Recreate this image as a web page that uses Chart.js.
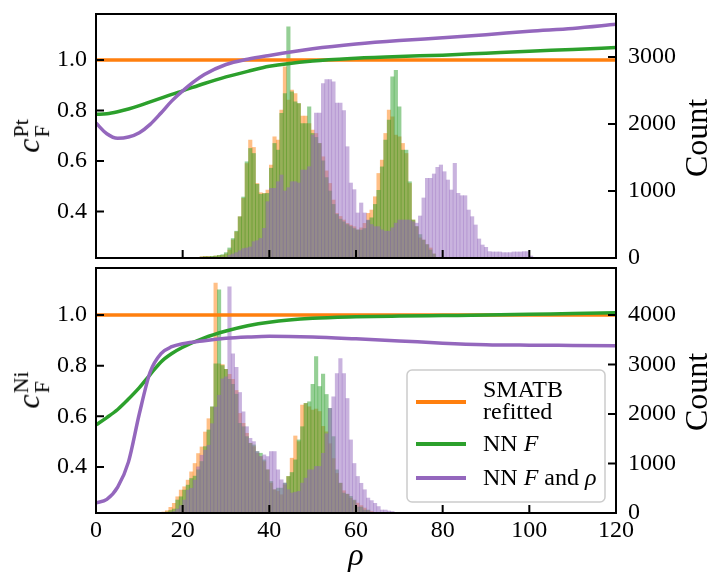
<!DOCTYPE html>
<html>
<head>
<meta charset="utf-8">
<script src="https://cdn.jsdelivr.net/npm/chart.js@4.4.0/dist/chart.umd.min.js"></script>
<style>
  body { margin: 0; background: #fff; }
  #wrap { position: relative; width: 709px; height: 577px; font-family: "Liberation Serif", serif; color: #000; }
  canvas { position: absolute; left: 0; }
  #ptChart { top: 0; }
  #niChart { top: 262px; }
  .vlab { position: absolute; transform: translate(-50%, -50%) rotate(-90deg); white-space: nowrap; font-size: 32px; line-height: 1; }
  .ss { display: inline-flex; flex-direction: column; font-size: 22px; line-height: 0.95; vertical-align: 11px; margin-left: 1px; }
</style>
</head>
<body>
<div id="wrap">
  <canvas id="ptChart" width="709" height="280"></canvas>
  <canvas id="niChart" width="709" height="315"></canvas>
  <div class="vlab" style="left:32px; top:136px;"><i>c</i><span class="ss"><span>Pt</span><span>F</span></span></div>
  <div class="vlab" style="left:32px; top:390px;"><i>c</i><span class="ss"><span>Ni</span><span>F</span></span></div>
  <div class="vlab" style="left:696px; top:138px;">Count</div>
  <div class="vlab" style="left:696px; top:392px;">Count</div>
</div>
<script>
const rhoSamples = [0, 2.5, 5, 7.5, 10, 12.5, 15, 17.5, 20, 25, 30, 35, 40, 50, 60, 70, 80, 90, 100, 110, 120];
const smatbRho = [0, 120];

// tick values
const rhoTicks = [0, 20, 40, 60, 80, 100, 120];
const cfTicks = [0.4, 0.6, 0.8, 1.0];
const ptCountTicks = [0, 1000, 2000, 3000];
const niCountTicks = [0, 1000, 2000, 3000, 4000];

// Pt panel curves (left axis)
const ptSmatb = [1.0, 1.0];
const ptNnF = [0.785, 0.787, 0.795, 0.806, 0.819, 0.834, 0.849, 0.864, 0.878, 0.907, 0.933, 0.955, 0.975, 0.996, 1.007, 1.014, 1.019, 1.027, 1.035, 1.041, 1.049];
const ptNnFRho = [0.750, 0.708, 0.690, 0.695, 0.712, 0.745, 0.790, 0.838, 0.878, 0.942, 0.982, 1.003, 1.018, 1.044, 1.063, 1.077, 1.088, 1.100, 1.114, 1.125, 1.141];

// Ni panel curves (left axis)
const niSmatb = [1.0, 1.0];
const niNnF = [0.566, 0.595, 0.627, 0.668, 0.713, 0.765, 0.815, 0.848, 0.873, 0.910, 0.937, 0.958, 0.972, 0.987, 0.993, 0.996, 0.998, 1.000, 1.003, 1.006, 1.009];
const niNnFRho = [0.258, 0.272, 0.320, 0.420, 0.610, 0.775, 0.848, 0.875, 0.887, 0.899, 0.908, 0.913, 0.916, 0.913, 0.906, 0.898, 0.889, 0.883, 0.881, 0.880, 0.879];

// histograms (right axis), bins of width 0.8 in rho; first bin index = left edge / binWidth
const binWidth = 0.8;
const ptSmatbFirstBin = 30;
const ptSmatbCounts = [20, 25, 25, 20, 30, 35, 40, 60, 120, 270, 390, 616, 890, 1410, 1760, 1650, 1113, 974, 964, 1014, 1387, 1809, 1760, 2207, 2853, 2356, 2505, 2455, 2306, 2117, 2117, 2008, 1908, 1859, 1710, 1511, 1300, 1113, 865, 666, 620, 567, 517, 490, 467, 417, 450, 517, 666, 716, 914, 1262, 1461, 1859, 2207, 2107, 1834, 1809, 1710, 1560, 1113, 567, 467, 300, 268, 200, 150, 60];
const ptNnFFirstBin = 30;
const ptNnFCounts = [15, 20, 20, 25, 30, 40, 50, 80, 150, 290, 400, 616, 910, 1436, 1635, 1560, 1100, 950, 960, 964, 1340, 1710, 1610, 2160, 2455, 3449, 2480, 2330, 2306, 2008, 2008, 2256, 1859, 1800, 1710, 1450, 1200, 1000, 800, 650, 580, 540, 500, 470, 440, 420, 417, 440, 560, 600, 800, 1010, 1360, 1760, 2058, 2704, 2803, 2256, 1610, 1610, 1138, 567, 470, 350, 268, 200, 120, 60];
const ptNnFRhoFirstBin = 38;
const ptNnFRhoCounts = [40, 60, 80, 110, 140, 150, 165, 244, 260, 293, 443, 841, 1040, 1040, 1139, 1239, 1000, 1050, 1139, 1139, 1120, 1313, 1313, 1363, 1836, 2164, 2164, 2604, 2664, 2664, 2629, 2313, 2313, 2200, 1661, 1119, 1020, 672, 821, 672, 567, 500, 468, 468, 420, 400, 400, 450, 520, 567, 567, 567, 567, 542, 520, 627, 896, 1189, 1189, 1254, 1353, 1388, 1288, 1164, 1015, 1413, 965, 930, 930, 716, 617, 493, 284, 194, 159, 95, 90, 90, 90, 80, 80, 80, 90, 90, 90, 95, 95, 30];

const niSmatbFirstBin = 18;
const niSmatbCounts = [10, 20, 47, 114, 195, 328, 463, 530, 664, 831, 1000, 1201, 1334, 1636, 1905, 2139, 4642, 3012, 3000, 2900, 2800, 2700, 2475, 2012, 1811, 1610, 1408, 1341, 1207, 1140, 1040, 872, 604, 470, 436, 369, 570, 738, 1107, 1556, 1442, 2180, 2213, 2146, 2080, 2100, 2050, 1750, 1640, 1400, 1100, 800, 600, 450, 380, 300, 250, 200, 150, 100, 50, 30];
const niNnFFirstBin = 20;
const niNnFCounts = [20, 50, 80, 262, 328, 463, 563, 697, 745, 872, 1040, 1341, 1677, 2146, 3012, 4507, 2980, 2900, 2700, 2600, 2400, 1811, 1743, 1543, 1408, 1375, 1241, 1207, 1073, 872, 637, 470, 503, 503, 604, 738, 818, 1073, 1476, 1743, 2213, 2247, 2600, 3159, 2555, 2806, 2394, 2113, 1543, 872, 604, 403, 380, 336, 262, 120, 120, 60, 60];
const niNnFRhoFirstBin = 21;
const niNnFRhoCounts = [10, 30, 80, 150, 262, 463, 500, 664, 932, 1167, 1268, 1368, 1804, 2139, 2379, 2709, 2750, 4567, 3213, 2945, 2434, 2044, 1743, 1509, 1442, 1241, 1140, 1174, 1140, 1241, 1241, 872, 671, 604, 470, 403, 420, 436, 604, 704, 872, 872, 940, 940, 1207, 1600, 2113, 2347, 2817, 3119, 2817, 2313, 1476, 1000, 738, 600, 470, 302, 250, 195, 130, 60, 60, 40, 30];

const legendLabels = [
  [[{ t: 'SMATB' }], [{ t: 'refitted' }]],
  [[{ t: 'NN ' }, { t: 'F', it: true }]],
  [[{ t: 'NN ' }, { t: 'F', it: true }, { t: ' and ' }, { t: 'ρ', it: true }]]
];

const orange = '#ff7f0e', green = '#2ca02c', purple = '#9467bd';
const orangeBar = 'rgba(255,127,14,0.5)', greenBar = 'rgba(44,160,44,0.5)', purpleBar = 'rgba(148,103,189,0.5)';
const serif = '"Liberation Serif", "Times New Roman", serif';

Chart.defaults.font.family = serif;
Chart.defaults.font.size = 24;
Chart.defaults.color = '#000';

function histData(firstBin, counts) {
  return counts.map((c, i) => ({ x: Math.round((firstBin + i + 0.5) * binWidth * 1000) / 1000, y: c }));
}
function curve(xs, ys) {
  return xs.map((x, i) => ({ x: x, y: ys[i] }));
}
function fixedTicks(values) {
  return s => { s.ticks = values.map(v => ({ value: v })); };
}

// frame and inward ticks, drawn like matplotlib spines
const framePlugin = {
  id: 'frame',
  afterDatasetsDraw(chart) {
    const { ctx, chartArea: a, scales } = chart;
    const len = 8;
    ctx.save();
    ctx.strokeStyle = '#000';
    ctx.lineWidth = 2;
    ctx.beginPath();
    scales.x.ticks.forEach(t => {
      const px = scales.x.getPixelForValue(t.value);
      ctx.moveTo(px, a.bottom);
      ctx.lineTo(px, a.bottom - len);
    });
    scales.y.ticks.forEach(t => {
      const py = scales.y.getPixelForValue(t.value);
      ctx.moveTo(a.left, py);
      ctx.lineTo(a.left + len, py);
    });
    scales.yr.ticks.forEach(t => {
      const py = scales.yr.getPixelForValue(t.value);
      ctx.moveTo(a.right, py);
      ctx.lineTo(a.right - len, py);
    });
    ctx.stroke();
    ctx.strokeRect(a.left, a.top, a.right - a.left, a.bottom - a.top);
    ctx.restore();
  }
};

const legendPlugin = {
  id: 'boxLegend',
  afterDraw(chart) {
    if (!chart.options.plugins.boxLegend.show) return;
    const { ctx, chartArea: a } = chart;
    const w = 198, h = 132;
    const x0 = a.right - 11 - w, y0 = a.bottom - 11 - h;
    const colors = [orange, green, purple];
    const handleY = [32, 74, 108];
    const baselines = [[27, 49], [81], [115]];
    ctx.save();
    ctx.beginPath();
    ctx.roundRect(x0, y0, w, h, 5);
    ctx.fillStyle = 'rgba(255,255,255,0.8)';
    ctx.fill();
    ctx.strokeStyle = '#cccccc';
    ctx.lineWidth = 1.5;
    ctx.stroke();
    legendLabels.forEach((lines, i) => {
      ctx.strokeStyle = colors[i];
      ctx.lineWidth = 4;
      ctx.beginPath();
      ctx.moveTo(x0 + 9, y0 + handleY[i]);
      ctx.lineTo(x0 + 59, y0 + handleY[i]);
      ctx.stroke();
      lines.forEach((runs, j) => {
        let x = x0 + 76;
        runs.forEach(r => {
          ctx.font = (r.it ? 'italic ' : '') + '24px ' + serif;
          ctx.fillStyle = '#000';
          ctx.textBaseline = 'alphabetic';
          ctx.fillText(r.t, x, y0 + baselines[i][j]);
          x += ctx.measureText(r.t).width;
        });
      });
    });
    ctx.restore();
  }
};

function lineSet(data, color, order) {
  return {
    type: 'line', data: data, yAxisID: 'y', borderColor: color, borderWidth: 3.5,
    pointRadius: 0, cubicInterpolationMode: 'monotone', fill: false, order: order
  };
}
function barSet(data, color, order) {
  return {
    type: 'bar', data: data, yAxisID: 'yr', backgroundColor: color, borderWidth: 0,
    barPercentage: 1, categoryPercentage: 1, grouped: false, order: order
  };
}

function makeChart(id, cfg) {
  return new Chart(document.getElementById(id), {
    type: 'bar',
    data: {
      datasets: [
        lineSet(cfg.smatb, orange, 2),
        lineSet(cfg.nnF, green, 1),
        lineSet(cfg.nnFRho, purple, 0),
        barSet(cfg.hSmatb, orangeBar, 5),
        barSet(cfg.hNnF, greenBar, 4),
        barSet(cfg.hNnFRho, purpleBar, 3)
      ]
    },
    options: {
      responsive: false,
      animation: false,
      layout: { padding: cfg.padding },
      plugins: { legend: { display: false }, tooltip: { enabled: false }, boxLegend: { show: cfg.legend } },
      scales: {
        x: {
          type: 'linear', min: 0, max: 120, offset: false,
          grid: { display: false, drawTicks: false }, border: { display: false },
          ticks: { display: cfg.xLabels, padding: 3, maxRotation: 0 },
          afterBuildTicks: fixedTicks(rhoTicks),
          title: { display: cfg.xLabels, text: 'ρ', font: { size: 32, style: 'italic' }, padding: { top: 0, bottom: 1 } },
          afterFit: s => { s.height = cfg.xHeight; s.paddingLeft = 0; s.paddingRight = 0; }
        },
        y: {
          position: 'left', min: cfg.yMin, max: cfg.yMax,
          grid: { display: false, drawTicks: false }, border: { display: false },
          ticks: { padding: 9, callback: v => v.toFixed(1) },
          afterBuildTicks: fixedTicks(cfTicks),
          afterFit: s => { s.width = 96; s.paddingTop = 0; s.paddingBottom = 0; }
        },
        yr: {
          position: 'right', min: 0, max: cfg.countMax,
          grid: { display: false, drawTicks: false }, border: { display: false },
          ticks: { padding: 12, callback: v => String(v) },
          afterBuildTicks: fixedTicks(cfg.countTicks),
          afterFit: s => { s.width = 93; s.paddingTop = 0; s.paddingBottom = 0; }
        }
      }
    },
    plugins: [framePlugin, legendPlugin]
  });
}

makeChart('ptChart', {
  smatb: curve(smatbRho, ptSmatb),
  nnF: curve(rhoSamples, ptNnF),
  nnFRho: curve(rhoSamples, ptNnFRho),
  hSmatb: histData(ptSmatbFirstBin, ptSmatbCounts),
  hNnF: histData(ptNnFFirstBin, ptNnFCounts),
  hNnFRho: histData(ptNnFRhoFirstBin, ptNnFRhoCounts),
  yMin: 0.216, yMax: 1.182, countMax: 3642, countTicks: ptCountTicks,
  padding: { top: 14, bottom: 22, left: 0, right: 0 },
  xLabels: false, xHeight: 0, legend: false
});

makeChart('niChart', {
  smatb: curve(smatbRho, niSmatb),
  nnF: curve(rhoSamples, niNnF),
  nnFRho: curve(rhoSamples, niNnFRho),
  hSmatb: histData(niSmatbFirstBin, niSmatbCounts),
  hNnF: histData(niNnFFirstBin, niNnFCounts),
  hNnFRho: histData(niNnFRhoFirstBin, niNnFRhoCounts),
  yMin: 0.218, yMax: 1.186, countMax: 4949, countTicks: niCountTicks,
  padding: { top: 6, bottom: 0, left: 0, right: 0 },
  xLabels: true, xHeight: 64, legend: true
});
</script>
</body>
</html>
